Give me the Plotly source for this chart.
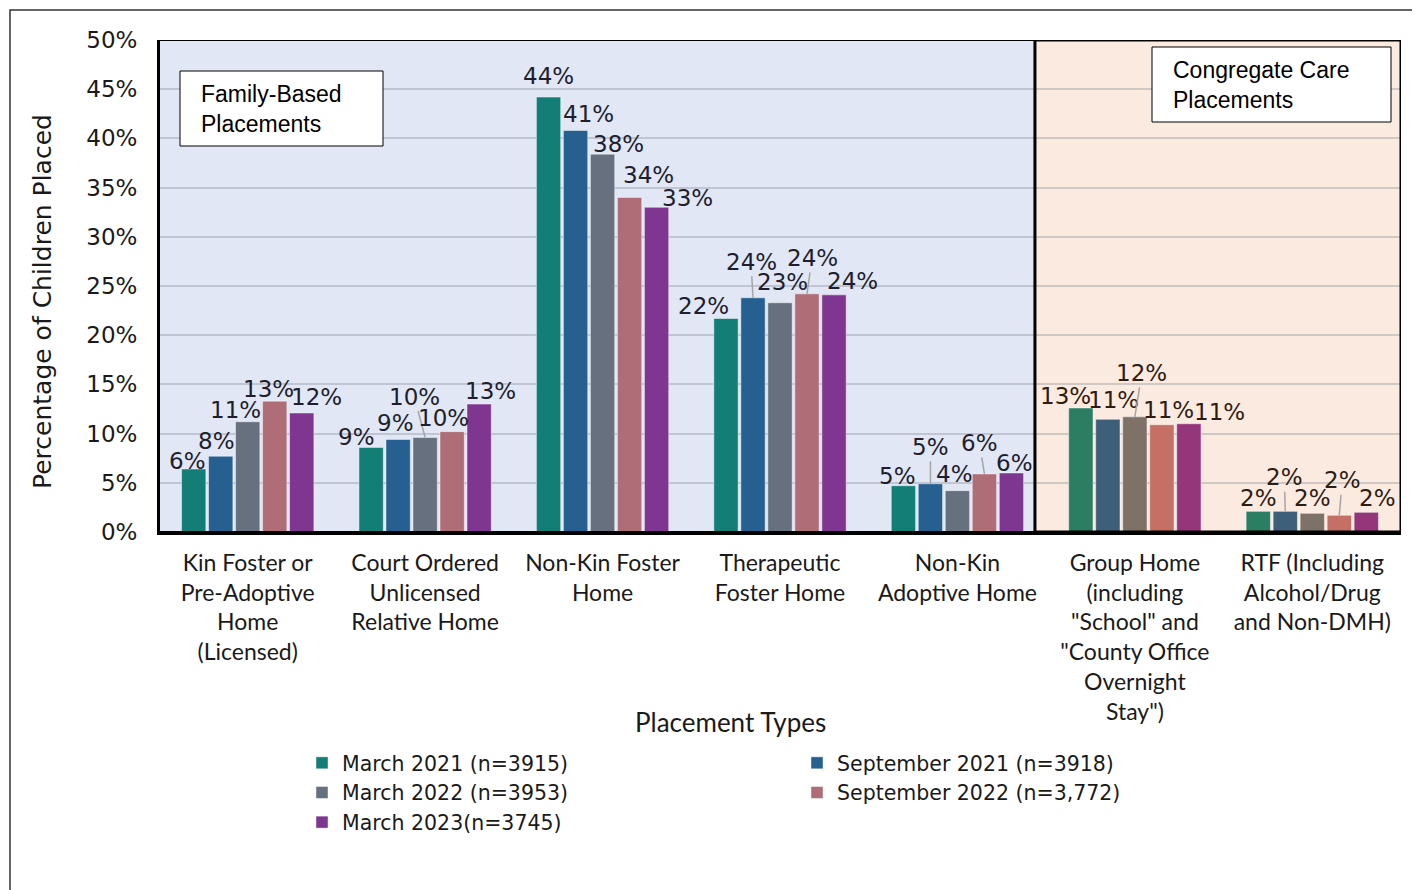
import plotly.graph_objects as go

# ---------------- data ----------------
categories = [
    "Kin Foster or<br>Pre-Adoptive<br>Home<br>(Licensed)",
    "Court Ordered<br>Unlicensed<br>Relative Home",
    "Non-Kin Foster<br>Home",
    "Therapeutic<br>Foster Home",
    "Non-Kin<br>Adoptive Home",
    "Group Home<br>(including<br>\"School\" and<br>\"County Office<br>Overnight<br>Stay\")",
    "RTF (Including<br>Alcohol/Drug<br>and Non-DMH)",
]
series_names = [
    "March 2021 (n=3915)",
    "September 2021 (n=3918)",
    "March 2022 (n=3953)",
    "September 2022 (n=3,772)",
    "March 2023(n=3745)",
]
march_2021 = [6.4, 8.6, 44.2, 21.7, 4.7, 12.6, 2.1]
september_2021 = [7.7, 9.4, 40.8, 23.8, 4.9, 11.45, 2.1]
march_2022 = [11.2, 9.6, 38.4, 23.3, 4.2, 11.7, 1.9]
september_2022 = [13.3, 10.2, 34.0, 24.2, 5.9, 10.9, 1.7]
march_2023 = [12.1, 13.0, 33.0, 24.1, 6.0, 11.0, 2.0]
y_ticks = [0, 5, 10, 15, 20, 25, 30, 35, 40, 45, 50]

series_values = [march_2021, september_2021, march_2022, september_2022, march_2023]

# ---------------- style ----------------
family_colors = ["#137E75", "#256090", "#66707E", "#AF6D77", "#7F3690"]
congregate_colors = ["#2B7E62", "#3E5F79", "#7E7168", "#C56F65", "#95367B"]
n_family = 5  # first five categories are family-based

# label offsets in pixels (dx, dy) from bar top, and which have leader lines
label_offsets = [
    [(-6, -8), (-4, -15), (-12, -12), (-6, -12), (15, -16)],
    [(-15, -10), (-3, -17), (-11, -41), (-9, -14), (11, -13)],
    [(0, -21), (13, -17), (16, -10), (19, -22), (31, -9)],
    [(-22, -12), (-2, -36), (2, -21), (5, -36), (18, -14)],
    [(-6, -10), (0, -37), (-3, -17), (-5, -31), (3, -10)],
    [(-15, -12), (6, -19), (7, -44), (7, -15), (31, -12)],
    [(0, -13), (-1, -34), (0, -15), (3, -35), (11, -14)],
]
leaders = {(1, 2), (3, 1), (3, 3), (4, 1), (4, 3), (5, 2), (6, 1), (6, 3)}

OFF = 8  # page body margin
SW, SH = 1420, 890
W, H = SW - OFF, SH - OFF
# plot area in screen pixels
PX0, PX1, PY0, PY1 = 159, 1401, 40, 532
L, R, T, B = PX0 - OFF, SW - PX1, PY0 - OFF, SH - PY1
PW, PH = PX1 - PX0, PY1 - PY0


def px(xp):
    return (xp - PX0) / PW


def py(yp):
    return (PY1 - yp) / PH


BARGAP = 0.239
GROUPGAP = 0.1
slot = (1 - BARGAP) / len(series_names)
split_x = 4.437

fig = go.Figure()
xs = list(range(len(categories)))
for j, (name, vals) in enumerate(zip(series_names, series_values)):
    colors = [family_colors[j] if i < n_family else congregate_colors[j] for i in xs]
    fig.add_trace(go.Bar(
        x=xs, y=vals, name=name,
        marker=dict(color=colors, line=dict(color="rgba(255,255,255,0.45)", width=1)),
        hoverinfo="skip",
    ))

annotations = []
for i in xs:
    for j, vals in enumerate(series_values):
        v = vals[i]
        dx, dy = label_offsets[i][j]
        lead = (i, j) in leaders
        annotations.append(dict(
            x=i + (j - 2) * slot, y=v, xref="x", yref="y",
            text=f"{round(v)}%", showarrow=True, arrowhead=0,
            arrowwidth=1.5, standoff=0,
            arrowcolor="#A5A5A5" if lead else "rgba(0,0,0,0)",
            ax=dx, ay=dy,
            font=dict(family="DejaVu Sans", size=23,
                      color="#1E1E2C" if i < n_family else "#2E1C12"),
        ))

# box texts
annotations.append(dict(
    x=px(199), y=py(109), xref="paper", yref="paper", xanchor="left", yanchor="middle",
    text="Family-Based<br>Placements", showarrow=False, align="left",
    font=dict(family="Liberation Sans", size=23, color="black")))
annotations.append(dict(
    x=px(1171), y=py(85), xref="paper", yref="paper", xanchor="left", yanchor="middle",
    text="Congregate Care<br>Placements", showarrow=False, align="left",
    font=dict(family="Liberation Sans", size=23, color="black")))
# axis titles
annotations.append(dict(
    x=px(730), y=py(722), xref="paper", yref="paper", xanchor="center", yanchor="middle",
    text="Placement Types", showarrow=False,
    font=dict(family="Lato", size=26, color="#1A1A1A")))
annotations.append(dict(
    x=px(42), y=py(302), xref="paper", yref="paper", xanchor="center", yanchor="middle",
    text="Percentage of Children Placed", showarrow=False, textangle=-90,
    font=dict(family="DejaVu Sans", size=25, color="#1A1A1A")))

shapes = [
    # outer chart border
    dict(type="rect", xref="paper", yref="paper", x0=px(10), x1=px(1430), y0=py(10), y1=py(900),
         line=dict(color="#333333", width=1.5), fillcolor="rgba(0,0,0,0)", layer="above"),
    # region fills
    dict(type="rect", xref="x", yref="y", x0=-0.5, x1=split_x, y0=0, y1=50,
         fillcolor="#E1E7F5", line=dict(width=0), layer="below"),
    dict(type="rect", xref="x", yref="y", x0=split_x, x1=6.5, y0=0, y1=50,
         fillcolor="#FBEAE0", line=dict(width=0), layer="below"),
    # region borders
    dict(type="rect", xref="x", yref="y", x0=-0.5, x1=split_x, y0=0, y1=50,
         fillcolor="rgba(0,0,0,0)", line=dict(color="black", width=2), layer="above"),
    dict(type="rect", xref="x", yref="y", x0=split_x, x1=6.5, y0=0, y1=50,
         fillcolor="rgba(0,0,0,0)", line=dict(color="black", width=3), layer="above"),
    # text boxes
    dict(type="rect", xref="paper", yref="paper", x0=px(180), x1=px(383), y0=py(146), y1=py(71),
         fillcolor="white", line=dict(color="black", width=1), layer="above"),
    dict(type="rect", xref="paper", yref="paper", x0=px(1152), x1=px(1391), y0=py(122), y1=py(47),
         fillcolor="white", line=dict(color="black", width=1), layer="above"),
]

fig.update_layout(
    width=W, height=H,
    margin=dict(l=L, r=R, t=T, b=B, autoexpand=False),
    paper_bgcolor="white", plot_bgcolor="white",
    font=dict(family="Lato", size=22, color="#1A1A1A"),
    barmode="group", bargap=BARGAP, bargroupgap=GROUPGAP,
    showlegend=True,
    legend=dict(
        orientation="h", x=px(302), y=py(743), xanchor="left", yanchor="top",
        entrywidth=450, entrywidthmode="pixels", itemwidth=30,
        font=dict(family="DejaVu Sans", size=20.5, color="#1A1A1A"),
        bgcolor="rgba(0,0,0,0)", traceorder="normal",
    ),
    xaxis=dict(
        range=[-0.5, 6.5], tickmode="array", tickvals=xs, ticktext=categories,
        showgrid=False, zeroline=False, showline=True, linecolor="black", linewidth=3,
        ticks="", ticklabelstandoff=8,
        tickfont=dict(family="Lato", size=23, color="#1A1A1A"),
    ),
    yaxis=dict(
        range=[0, 50], tickmode="array", tickvals=y_ticks,
        ticktext=[f"{t}%" for t in y_ticks],
        showgrid=True, gridcolor="rgba(120,125,140,0.32)", gridwidth=2,
        zeroline=False, showline=True, linecolor="black", linewidth=2,
        ticks="", ticklabelstandoff=15,
        tickfont=dict(family="DejaVu Sans", size=23, color="#1A1A1A"),
    ),
    annotations=annotations,
    shapes=shapes,
)

fig.write_html("out.html")
